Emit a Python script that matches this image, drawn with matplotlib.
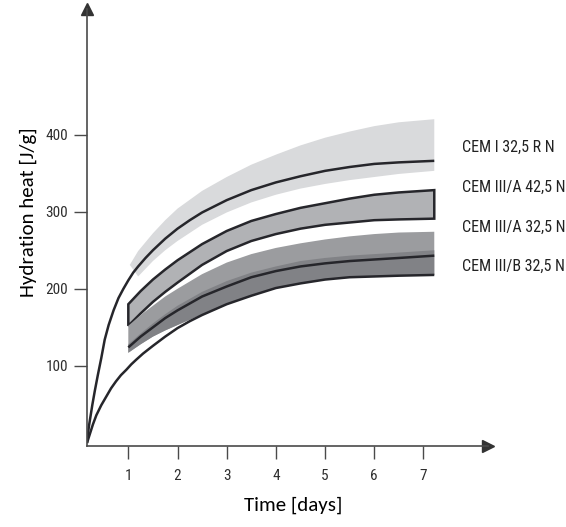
import matplotlib.pyplot as plt

# hydration heat development [J/g] over time [days]
days = [1.0, 1.25, 1.5, 1.75, 2.0, 2.5, 3.0, 3.5, 4.0, 4.5, 5.0, 5.5, 6.0, 6.5, 7.22]

# CEM I 32,5 R N: band edges and mean curve (mean curve starts at the origin)
cem1_top_x = [1.03, 1.2, 1.5, 1.75, 2.0, 2.5, 3.0, 3.5, 4.0, 4.5, 5.0, 5.5, 6.0, 6.5, 7.22]
cem1_top = [231, 249, 272, 289, 304, 327, 345, 361, 374, 386, 396, 404, 411, 416, 420]
cem1_low_x = [1.2, 1.5, 1.75, 2.0, 2.5, 3.0, 3.5, 4.0, 4.5, 5.0, 5.5, 6.0, 6.5, 7.22]
cem1_low = [216, 236, 250, 262, 283, 299, 312, 322, 330, 336, 341, 345, 349, 353]

fast_x = [0.16, 0.18, 0.2, 0.23, 0.27, 0.32, 0.38, 0.45, 0.52, 0.6, 0.7, 0.8, 0.9,
          1.0, 1.1, 1.2, 1.35, 1.5, 1.75, 2.0, 2.25, 2.5, 2.75, 3.0, 3.5, 4.0,
          4.5, 5.0, 5.5, 6.0, 6.5, 7.22]
fast_y = [0, 12, 22, 34, 50, 68, 88, 110, 134, 153, 172, 188, 200,
          211, 221, 229, 240, 250, 265, 278, 289, 299, 307, 315, 328, 338,
          346, 353, 358, 362, 364, 366]

# CEM III/A 42,5 N and CEM III/A 32,5 N
cem3a_425 = [180, 197, 212, 225, 237, 258, 275, 288, 297, 305, 311, 317, 322, 325, 328]
cem3a_325 = [152, 168, 183, 196, 208, 231, 249, 262, 271, 278, 283, 286, 289, 290, 291]

# CEM III/B 32,5 N range
cem3b_top = [152, 166, 178, 190, 200, 219, 234, 245, 253, 259, 264, 268, 271, 273, 274]
cem3b_inner = [128, 142, 155, 167, 178, 196, 210, 221, 229, 236, 240, 243, 245, 247, 250]
cem3b_mid = [124, 138, 150, 162, 172, 190, 203, 215, 223, 229, 233, 236, 238, 240, 243]
cem3b_low = [117, 128, 138, 146, 153, 167, 180, 191, 201, 207, 212, 215, 216, 217, 218]

slow_x = [0.16, 0.19, 0.23, 0.28, 0.35, 0.45, 0.55, 0.65, 0.75, 0.85, 0.96,
          1.06, 1.16, 1.3, 1.5, 1.75, 2.0, 2.25, 2.5, 3.0, 3.5, 4.0, 4.5,
          5.0, 5.5, 6.0, 6.5, 7.22]
slow_y = [0, 6, 14, 24, 36, 49, 60, 71, 80, 88, 95,
          102, 108, 116, 126, 138, 149, 158, 166, 180, 191, 201, 207,
          212, 215, 216, 217, 218]

labels = ["CEM I 32,5 R N", "CEM III/A 42,5 N", "CEM III/A 32,5 N", "CEM III/B 32,5 N"]
label_y = [383, 331, 280, 229]

x_ticks = [1, 2, 3, 4, 5, 6, 7]
y_ticks = [100, 200, 300, 400]

line_c = "#26262b"
axis_c = "#4a4a4a"
narrow = ["Roboto Condensed", "DejaVu Sans"]

fig = plt.figure(figsize=(5.66, 5.27), dpi=100)
ax = fig.add_axes([0.1537, 0.1543, 0.7083, 0.8287])

# shaded ranges
ax.fill(cem1_top_x + cem1_low_x[::-1], cem1_top + cem1_low[::-1],
        color="#d9dadc", lw=0)
ax.fill(days + days[::-1], cem3a_425 + cem3a_325[::-1],
        facecolor="#b1b2b5", edgecolor=line_c, lw=1.8, joinstyle="miter")
ax.fill(days + days[::-1], cem3b_top + cem3b_low[::-1], color="#9b9c9f", lw=0)
ax.fill(days + days[::-1], cem3b_inner + cem3b_low[::-1], color="#818286", lw=0)

# curves
ax.plot(fast_x, fast_y, color=line_c, lw=1.8, solid_capstyle="butt")
ax.plot(slow_x, slow_y, color=line_c, lw=1.8, solid_capstyle="butt")
ax.plot(days, cem3b_mid, color=line_c, lw=1.8, solid_capstyle="butt")

for txt, yy in zip(labels, label_y):
    ax.text(7.78, yy, txt, fontsize=11.5, family=narrow, color="#222222",
            va="center", ha="left", clip_on=False)

ax.set_xlim(0.16, 8.31)
ax.set_ylim(-3.5, 563)
ax.spines["top"].set_visible(False)
ax.spines["right"].set_visible(False)
for s in ("left", "bottom"):
    ax.spines[s].set_color(axis_c)
    ax.spines[s].set_linewidth(1.2)

# arrow heads on the axes
ax.plot([8.31], [-3.5], marker=">", color="#333333", ms=8, clip_on=False)
ax.plot([0.16], [563], marker="^", color="#333333", ms=8, clip_on=False)

ax.set_xticks(x_ticks)
ax.set_yticks(y_ticks)
ax.tick_params(length=9.5, width=1.0, color=axis_c, labelsize=11,
               labelcolor="#2e2e2e")
for lab in ax.get_xticklabels() + ax.get_yticklabels():
    lab.set_family(narrow)
ax.tick_params(axis="x", pad=7)
ax.tick_params(axis="y", pad=4)

ax.set_xlabel("Time [days]", fontsize=15, family="Carlito")
ax.set_ylabel("Hydration heat [J/g]", fontsize=15, family="Carlito")
ax.xaxis.set_label_coords(0.514, -0.117)
ax.yaxis.set_label_coords(-0.125, 0.535)

fig.savefig("out.png", dpi=100)
